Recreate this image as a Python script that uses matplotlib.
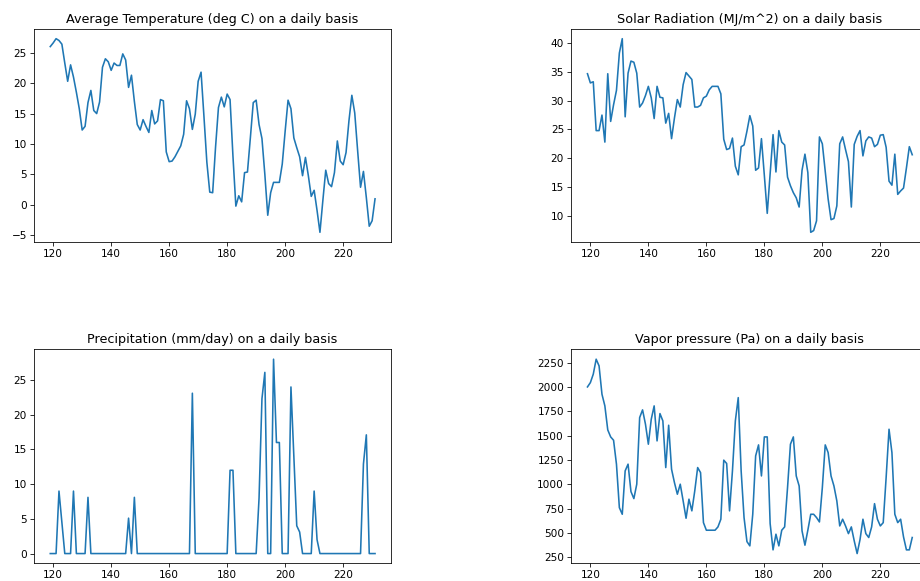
import matplotlib.pyplot as plt
import numpy as np

# day of year, one value per day
days = np.arange(119, 232)

temperature = [26.0, 26.6, 27.3, 27.0, 26.4, 23.3, 20.3, 23.0, 21.0, 18.5,
               15.8, 12.3, 12.9, 16.8, 18.8, 15.5, 15.0, 16.9, 22.6, 24.0,
               23.5, 22.1, 23.3, 22.9, 22.9, 24.8, 23.8, 19.3, 21.3, 17.0,
               13.2, 12.3, 14.0, 12.9, 11.9, 15.5, 13.3, 13.8, 17.3, 17.1,
               8.7, 7.1, 7.2, 7.9, 8.8, 9.7, 11.6, 17.1, 15.8, 12.4,
               14.9, 20.3, 21.8, 14.5, 7.0, 2.1, 2.0, 9.5, 16.0, 17.7,
               16.1, 18.2, 17.3, 8.0, -0.2, 1.5, 0.5, 5.3, 5.4, 11.0,
               16.8, 17.2, 13.2, 10.9, 5.0, -1.7, 2.0, 3.7, 3.7, 3.7,
               6.7, 12.1, 17.2, 15.8, 11.0, 9.4, 7.9, 4.8, 7.8, 4.8,
               1.4, 2.4, -0.9, -4.5, 0.7, 5.7, 3.5, 3.0, 5.3, 10.5,
               7.2, 6.6, 8.6, 13.8, 18.0, 15.1, 8.9, 2.9, 5.5, 1.2,
               -3.5, -2.6, 1.0]

solar = [34.7, 33.1, 33.3, 24.8, 24.8, 27.5, 22.8, 34.7, 26.4, 29.3,
         31.8, 38.3, 40.8, 27.2, 34.8, 36.9, 36.7, 34.8, 28.9, 29.6,
         30.9, 32.5, 30.5, 26.9, 32.5, 30.6, 30.5, 26.1, 27.8, 23.4,
         27.0, 30.2, 28.9, 32.8, 34.9, 34.3, 33.7, 28.9, 28.9, 29.2,
         30.5, 30.8, 31.9, 32.5, 32.5, 32.5, 31.2, 23.3, 21.5, 21.7,
         23.5, 18.6, 17.1, 22.0, 22.3, 24.7, 27.4, 25.6, 17.9, 18.3,
         23.4, 17.0, 10.4, 17.3, 24.1, 17.6, 24.8, 22.8, 22.3, 16.7,
         15.2, 14.0, 13.1, 11.5, 17.9, 20.7, 17.5, 7.1, 7.4, 9.1,
         23.7, 22.5, 17.7, 12.9, 9.3, 9.5, 11.7, 22.5, 23.7, 21.5,
         19.4, 11.5, 22.4, 23.8, 24.8, 20.4, 23.0, 23.7, 23.5, 22.0,
         22.4, 24.0, 24.1, 21.9, 16.0, 15.3, 20.7, 13.7, 14.3, 14.8,
         18.3, 22.0, 20.6]

precipitation = [0, 0, 0, 9.0, 4.5, 0, 0, 0, 9.0, 0,
                 0, 0, 0, 8.1, 0, 0, 0, 0, 0, 0,
                 0, 0, 0, 0, 0, 0, 0, 5.1, 0, 8.1,
                 0, 0, 0, 0, 0, 0, 0, 0, 0, 0,
                 0, 0, 0, 0, 0, 0, 0, 0, 0, 23.1,
                 0, 0, 0, 0, 0, 0, 0, 0, 0, 0,
                 0, 0, 12.0, 12.0, 0, 0, 0, 0, 0, 0,
                 0, 0, 8.0, 22.3, 26.1, 0, 0, 28.0, 16.0, 16.0,
                 0, 0, 0, 24.0, 14.0, 4.0, 3.1, 0, 0, 0,
                 0, 9.0, 2.0, 0, 0, 0, 0, 0, 0, 0,
                 0, 0, 0, 0, 0, 0, 0, 0, 12.9, 17.1,
                 0, 0, 0]

vapor = [2000, 2044, 2131, 2285, 2216, 1925, 1805, 1558, 1486, 1452,
         1206, 759, 691, 1137, 1206, 924, 852, 1000, 1685, 1764,
         1617, 1411, 1668, 1805, 1445, 1726, 1651, 1171, 1606, 1154,
         1016, 897, 1000, 828, 650, 846, 726, 931, 1171, 1119,
         605, 527, 527, 527, 527, 561, 640, 1247, 1213, 726,
         1137, 1651, 1890, 1137, 657, 410, 366, 691, 1291, 1404,
         1085, 1486, 1486, 595, 325, 486, 366, 527, 561, 965,
         1411, 1486, 1085, 982, 520, 373, 527, 691, 691, 657,
         612, 965, 1404, 1325, 1085, 982, 828, 571, 640, 571,
         492, 561, 417, 287, 431, 640, 492, 452, 561, 800,
         640, 571, 605, 1068, 1565, 1325, 691, 605, 640, 458,
         325, 325, 452]

titles = ["Average Temperature (deg C) on a daily basis",
          "Solar Radiation (MJ/m^2) on a daily basis",
          "Precipitation (mm/day) on a daily basis",
          "Vapor pressure (Pa) on a daily basis"]

# slightly enlarged default sizes
plt.rcParams["axes.titlesize"] = 12.7
plt.rcParams["axes.titlepad"] = 6.3
plt.rcParams["xtick.labelsize"] = 10.5
plt.rcParams["ytick.labelsize"] = 10.5
plt.rcParams["xtick.major.size"] = 3.7
plt.rcParams["ytick.major.size"] = 3.7
plt.rcParams["lines.linewidth"] = 1.6

fig = plt.figure(figsize=(920 / 72, 581 / 72), dpi=72)

# axes boxes in figure fractions (left, bottom, width, height)
boxes = [(0.0370, 0.5835, 0.3883, 0.3666),
         (0.6209, 0.5835, 0.3883, 0.3666),
         (0.0370, 0.0305, 0.3883, 0.3680),
         (0.6209, 0.0305, 0.3883, 0.3680)]

series = [temperature, solar, precipitation, vapor]

for box, values, title in zip(boxes, series, titles):
    ax = fig.add_axes(box)
    ax.plot(days, values)
    ax.set_title(title)

plt.savefig("out.png", dpi=72)
